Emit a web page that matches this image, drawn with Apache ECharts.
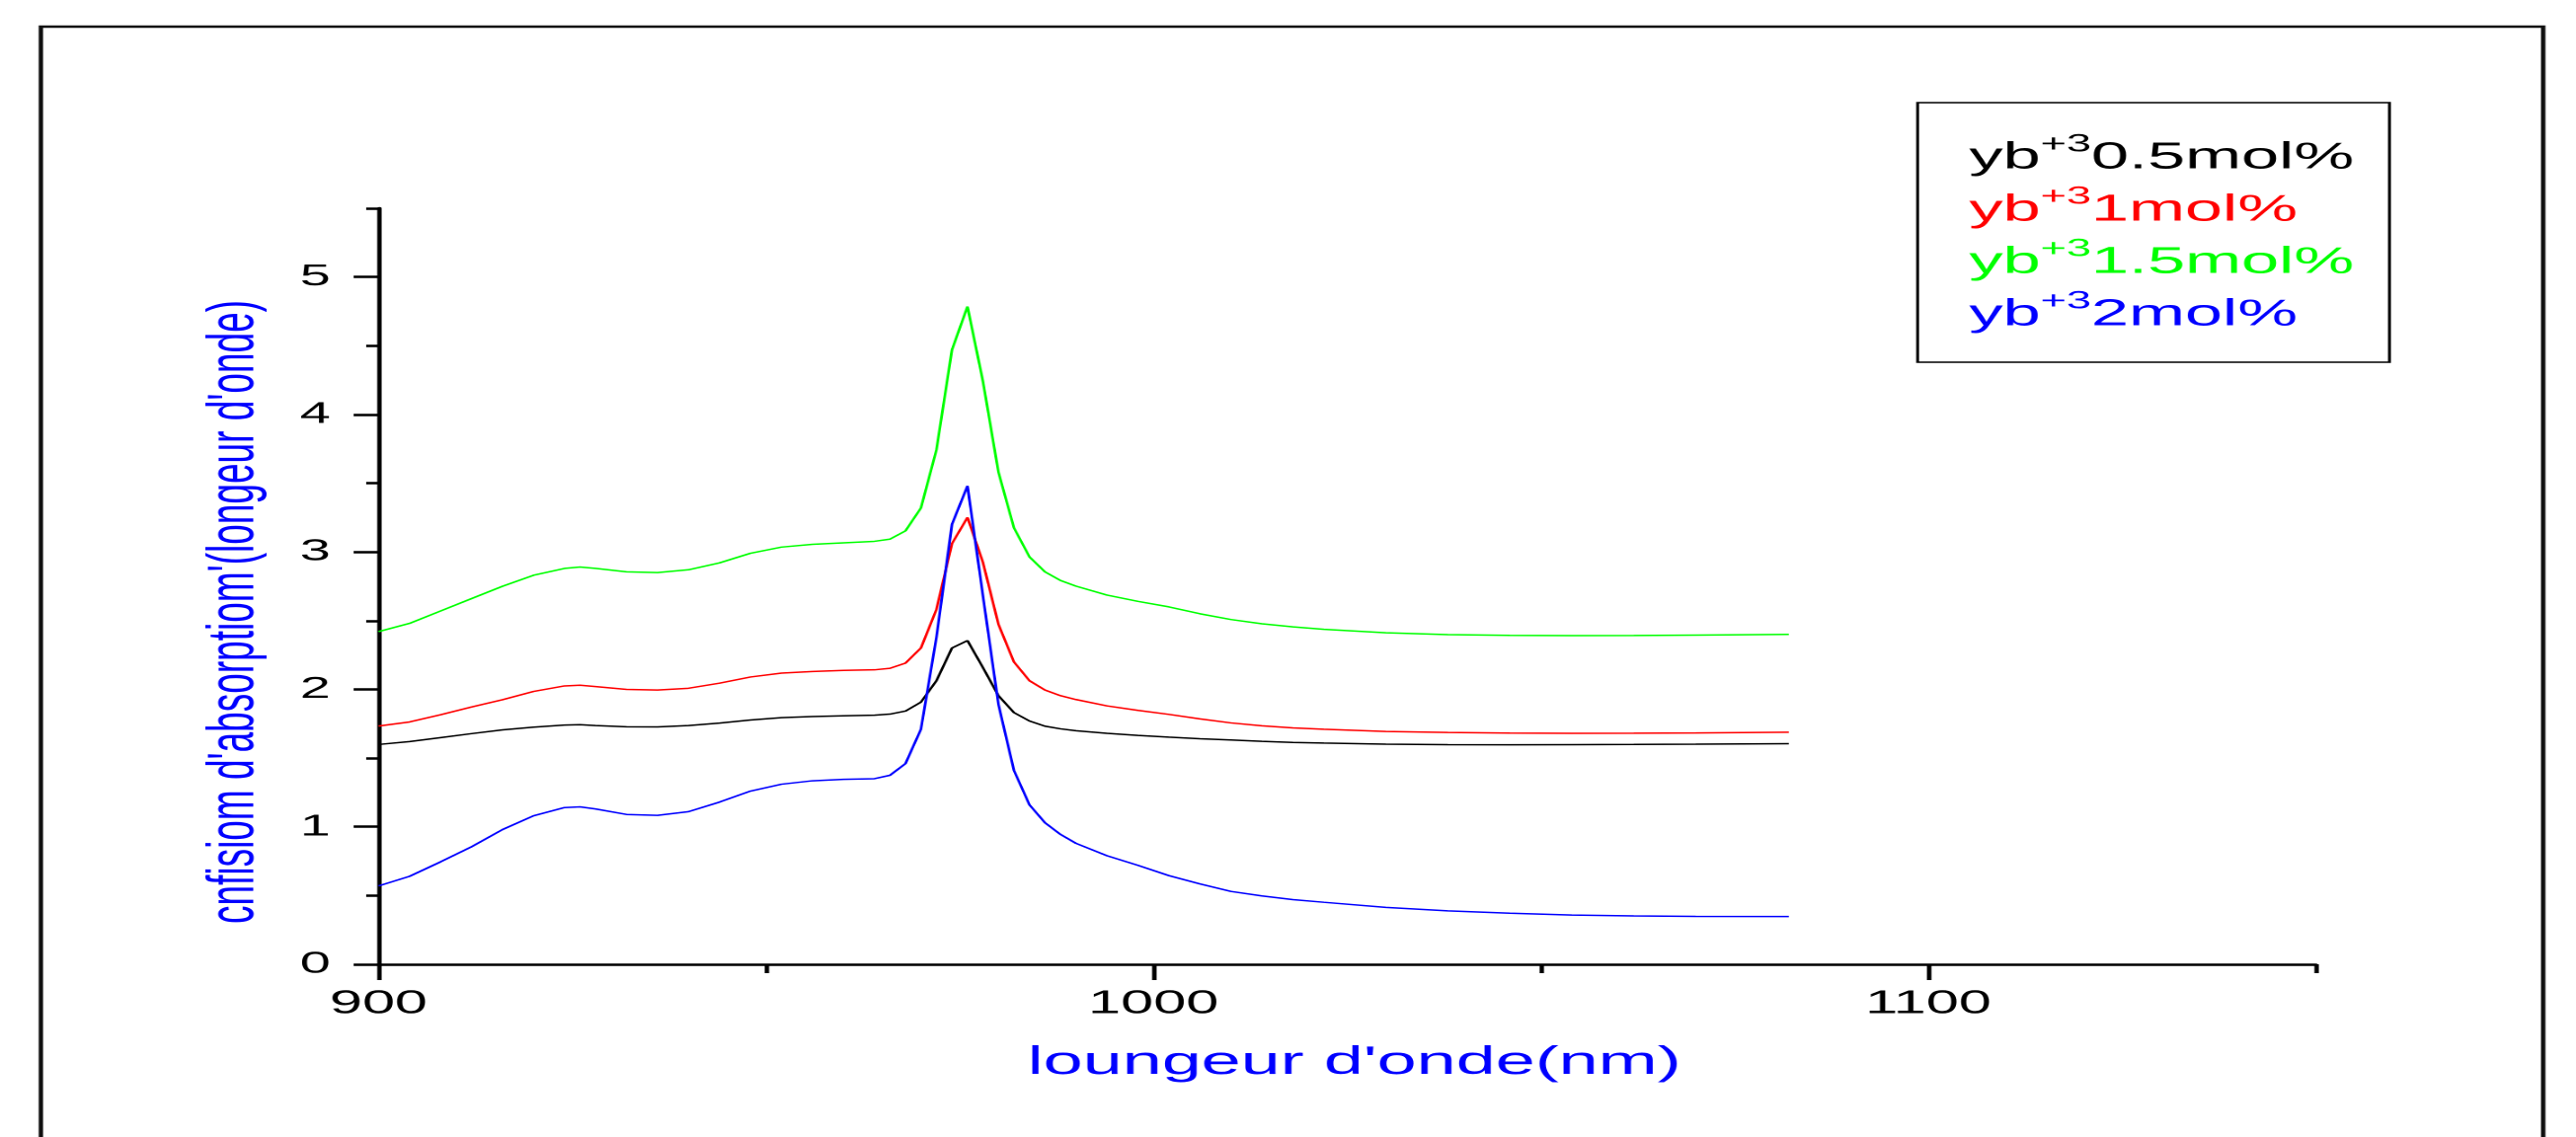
<!DOCTYPE html>
<html>
<head>
<meta charset="utf-8">
<title>absorption Yb</title>
<script src="https://cdn.jsdelivr.net/npm/echarts@6/dist/echarts.min.js"></script>
<style>
  html, body { margin: 0; padding: 0; background: #fff; overflow: hidden; }
  /* the reference is stretched sideways, so draw narrow and stretch the whole chart */
  #main { width: 1449px; height: 1152px; transform: scaleX(1.8); transform-origin: 0 0; }
</style>
</head>
<body>
<div id="main"></div>
<script>
// longueur d'onde (nm)
var wavelengths = [900, 904, 908, 912, 916, 920, 924, 926, 928, 932, 936, 940, 944, 948, 952, 956, 960,
  964, 966, 968, 970, 972, 974, 976, 978, 980, 982, 984, 986, 988, 990,
  994, 998, 1002, 1006, 1010, 1014, 1018, 1022, 1030, 1038, 1046, 1054, 1062, 1070, 1082];

var yb05 = [1.599, 1.62, 1.649, 1.678, 1.705, 1.725, 1.74, 1.743, 1.737, 1.728, 1.727, 1.737, 1.755, 1.777, 1.794, 1.802, 1.808,
  1.812, 1.82, 1.842, 1.907, 2.063, 2.301, 2.355, 2.158, 1.954, 1.831, 1.77, 1.732, 1.713, 1.699,
  1.68, 1.665, 1.652, 1.641, 1.632, 1.622, 1.614, 1.609, 1.601, 1.598, 1.597, 1.598, 1.599, 1.601, 1.605];

var yb1 = [1.733, 1.763, 1.815, 1.872, 1.925, 1.985, 2.025, 2.03, 2.02, 2.0, 1.995, 2.008, 2.045, 2.09, 2.118, 2.13, 2.138,
  2.142, 2.153, 2.191, 2.301, 2.582, 3.06, 3.251, 2.923, 2.473, 2.199, 2.063, 1.995, 1.954, 1.926,
  1.88, 1.847, 1.818, 1.785, 1.756, 1.735, 1.72, 1.71, 1.694, 1.686, 1.682, 1.68, 1.681, 1.683, 1.688];

var yb15 = [2.42, 2.48, 2.57, 2.66, 2.75, 2.83, 2.88, 2.89, 2.88, 2.855, 2.85, 2.87, 2.92, 2.99, 3.035, 3.055, 3.066,
  3.077, 3.093, 3.153, 3.32, 3.743, 4.47, 4.785, 4.24, 3.58, 3.175, 2.964, 2.855, 2.792, 2.751,
  2.686, 2.64, 2.6, 2.55, 2.508, 2.477, 2.455, 2.437, 2.412, 2.398, 2.393, 2.391, 2.392, 2.395, 2.4];

var yb2 = [0.57, 0.64, 0.745, 0.855, 0.98, 1.08, 1.14, 1.145, 1.13, 1.09, 1.083, 1.11, 1.18, 1.26, 1.31, 1.335, 1.345,
  1.35, 1.375, 1.46, 1.71, 2.38, 3.2, 3.48, 2.68, 1.89, 1.41, 1.16, 1.03, 0.945, 0.88,
  0.79, 0.72, 0.645, 0.585, 0.53, 0.497, 0.47, 0.451, 0.414, 0.389, 0.372, 0.358, 0.352, 0.348, 0.347];

var concentrations = ['0.5mol%', '1mol%', '1.5mol%', '2mol%'];
var colors = ['#000000', '#ff0000', '#00ff00', '#0000ff'];
var seriesValues = [yb05, yb1, yb15, yb2];

// ticks
var xLabelTicks = [900, 1000, 1100];
var xMinorTicks = [950, 1050, 1150];
var yLabelTicks = [0, 1, 2, 3, 4, 5];
var yMinorTicks = [0.5, 1.5, 2.5, 3.5, 4.5, 5.5];

(function () {
  var myChart = echarts.init(document.getElementById('main'), null, { devicePixelRatio: 2 });

  var names = concentrations.map(function (c) { return 'yb+3' + c; });

  var rich = {};
  colors.forEach(function (c, i) {
    rich['b' + i] = { color: c, fontSize: 38, lineHeight: 52 };
    rich['s' + i] = { color: c, fontSize: 25, lineHeight: 30, verticalAlign: 'top' };
  });

  var series = names.map(function (name, i) {
    return {
      name: name,
      type: 'line',
      showSymbol: false,
      data: wavelengths.map(function (w, j) { return [w, seriesValues[i][j]]; }),
      lineStyle: { color: colors[i], width: 1.5 },
      itemStyle: { color: colors[i] }
    };
  });

  var axisLineStyle = { color: '#000', width: 2.5 };

  var option = {
    animation: false,
    backgroundColor: '#fff',
    textStyle: { fontFamily: 'Liberation Sans, Arial, sans-serif' },
    grid: { left: 213, right: 146, top: 211, bottom: 175 },
    legend: {
      orient: 'vertical',
      left: 1079,
      top: 104,
      icon: 'none',
      itemWidth: 0,
      itemGap: 1,
      padding: [30, 20, 22, 24],
      borderColor: '#000',
      borderWidth: 1.6,
      selectedMode: false,
      data: names,
      formatter: function (name) {
        var i = names.indexOf(name);
        return '{b' + i + '|yb}{s' + i + '|+3}{b' + i + '|' + concentrations[i] + '}';
      },
      textStyle: { lineHeight: 52, rich: rich }
    },
    xAxis: [{
      type: 'value',
      min: 900,
      max: 1150,
      name: "loungeur d'onde(nm)",
      nameLocation: 'middle',
      nameGap: 80,
      nameTextStyle: { color: '#0000ff', fontSize: 40, padding: [0, 0, 0, 8] },
      axisLine: { lineStyle: axisLineStyle },
      axisTick: { customValues: xLabelTicks, length: 16, lineStyle: axisLineStyle },
      axisLabel: {
        customValues: xLabelTicks, color: '#000', fontSize: 33, margin: 24,
        formatter: function (v) { return String(v); }
      },
      splitLine: { show: false }
    }, {
      type: 'value',
      min: 900,
      max: 1150,
      position: 'bottom',
      axisLine: { show: false },
      axisTick: { customValues: xMinorTicks, length: 9, lineStyle: axisLineStyle },
      axisLabel: { show: false },
      splitLine: { show: false }
    }],
    yAxis: [{
      type: 'value',
      min: 0,
      max: 5.5,
      name: "cnfisiom d'absorptiom'(longeur d'onde)",
      nameLocation: 'middle',
      nameGap: 62,
      nameRotate: 90,
      nameTextStyle: { color: '#0000ff', fontSize: 37, padding: [0, 52, 0, 0] },
      axisLine: { show: true, lineStyle: axisLineStyle },
      axisTick: { show: true, customValues: yLabelTicks, length: 14, lineStyle: axisLineStyle },
      axisLabel: { customValues: yLabelTicks, color: '#000', fontSize: 31, margin: 27 },
      splitLine: { show: false }
    }, {
      type: 'value',
      min: 0,
      max: 5.5,
      position: 'left',
      axisLine: { show: false },
      axisTick: { show: true, customValues: yMinorTicks, length: 7, lineStyle: axisLineStyle },
      axisLabel: { show: false },
      splitLine: { show: false }
    }],
    graphic: [{
      type: 'rect',
      shape: { x: 23, y: 27, width: 1408, height: 1200 },
      style: { fill: null, stroke: '#111', lineWidth: 2.5 },
      silent: true
    }],
    series: series
  };

  myChart.setOption(option);
})();
</script>
</body>
</html>
